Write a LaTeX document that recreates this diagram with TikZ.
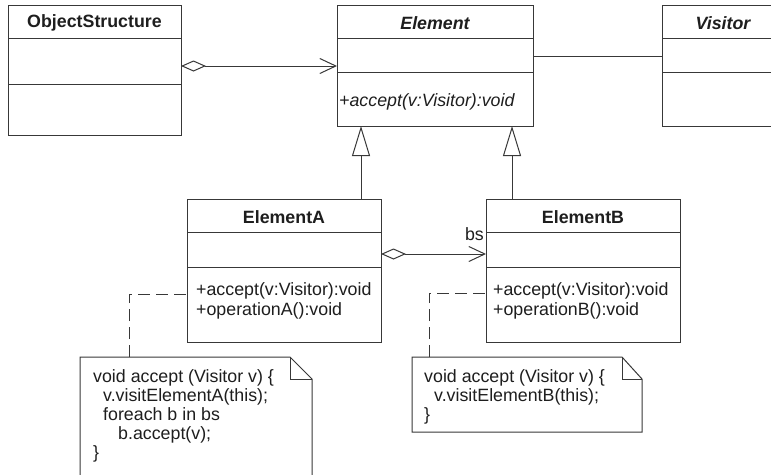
\documentclass[tikz,border=0pt]{standalone}
\usepackage{fontspec}
\setmainfont{Liberation Sans}
\usetikzlibrary{arrows.meta,calc}

\definecolor{umlline}{HTML}{383838}
\definecolor{umlink}{HTML}{1E1E1E}

\newcommand{\umlsize}{\fontsize{17.8}{20}\selectfont}

\tikzset{
  classbox/.style={draw=umlline, line width=1pt, fill=white, inner sep=0pt,
    outer sep=0pt, anchor=north west},
  classname/.style={font=\umlsize\bfseries, text=umlink, inner sep=0pt},
  abstractname/.style={classname, font=\umlsize\bfseries\itshape},
  member/.style={font=\umlsize, text=umlink, inner sep=0pt, anchor=west},
  abstractmember/.style={member, font=\umlsize\itshape},
  compartment/.style={draw=umlline, line width=1pt},
  assoc/.style={draw=umlline, line width=1pt},
  aggregation/.style={assoc, {Diamond[open, length=25pt, width=11pt]}-{Straight Barb[length=16pt, width=15pt]}},
  inherit/.style={assoc, -{Triangle[open, length=30pt, width=18pt]}},
  noteshape/.style={draw=umlline, line width=1pt, fill=white, line join=miter},
  notelink/.style={draw=umlline, line width=1pt, dash pattern=on 12pt off 6pt},
  notetext/.style={font=\fontsize{17.8}{19}\selectfont, text=umlink, inner sep=0pt,
    anchor=north west, align=left},
}

\begin{document}
\begin{tikzpicture}[x=1pt, y=-1pt]
\useasboundingbox (0,0) rectangle (771,474);
\clip (0,0) rectangle (771,474);
\fill[white] (0,0) rectangle (771,474);

% ---- class boxes ----
\node[classbox, minimum width=173pt, minimum height=130pt] (os) at (8,5) {};
\node[classbox, minimum width=196pt, minimum height=121pt] (el) at (337,5) {};
\node[classbox, minimum width=122pt, minimum height=121pt] (vis) at (662,5) {};
\node[classbox, minimum width=194pt, minimum height=143pt] (ea) at (187,199) {};
\node[classbox, minimum width=194pt, minimum height=143pt] (eb) at (486,199) {};

% compartments
\foreach \cls/\a/\b in {os/33/79, el/33/67, vis/33/67, ea/33/68, eb/33/68} {
  \draw[compartment] ($(\cls.north west)+(0,\a)$) -- ($(\cls.north east)+(0,\a)$);
  \draw[compartment] ($(\cls.north west)+(0,\b)$) -- ($(\cls.north east)+(0,\b)$);
}

% names
\node[classname] (osname) at ($(os.north)+(0,18)$) {ObjectStructure};
\node[abstractname] (elname) at ($(el.north)+(0,18)$) {Element};
\node[abstractname] (visname) at ($(vis.north)+(0,18)$) {Visitor};
\node[classname] (eaname) at ($(ea.north)+(0,18)$) {ElementA};
\node[classname] (ebname) at ($(eb.north)+(0,18)$) {ElementB};

% operations
\node[abstractmember] (elop) at ($(el.north west)+(2,97)$) {+accept(v:Visitor):void};
\node[member] (eaop1) at ($(ea.north west)+(9,92)$) {+accept(v:Visitor):void};
\node[member] (eaop2) at ($(ea.north west)+(9,112)$) {+operationA():void};
\node[member] (ebop1) at ($(eb.north west)+(7,92)$) {+accept(v:Visitor):void};
\node[member] (ebop2) at ($(eb.north west)+(7,112)$) {+operationB():void};

% ---- relations ----
\draw[aggregation] ($(os.north east)+(0,61)$) -- ($(el.north west)+(0,61)$);
\draw[assoc] ($(el.north east)+(0,51)$) -- ($(vis.north west)+(0,51)$);

\coordinate (eaTop) at ($(ea.north east)+(-20,0)$);
\coordinate (ebTop) at ($(eb.north west)+(26,0)$);
\draw[inherit] (eaTop) -- (eaTop |- el.south);
\draw[inherit] (ebTop) -- (ebTop |- el.south);

\coordinate (eaBs) at ($(ea.north east)+(0,55)$);
\draw[aggregation] (eaBs) -- (eaBs -| eb.west);
\node[member, anchor=base east] (bslabel) at ($(eb.north west)+(-2,41)$) {bs};

% ---- notes ----
\coordinate (naNW) at (80,357);
\coordinate (naFold) at (290,357);
\coordinate (naNE) at (312,379);
\draw[noteshape] ($(naNW)+(0,130)$) -- (naNW) -- (naFold) -- (naNE) -- ($(naNE)+(0,110)$);
\draw[noteshape, fill=none] (naFold) |- (naNE);
\node[notetext] (natext) at (93,369) {void accept (Visitor v) \{\\
\hspace*{10pt}v.visitElementA(this);\\
\hspace*{10pt}foreach b in bs\\
\hspace*{25pt}b.accept(v);\\
\}};
\coordinate (naLink) at (129,357);
\draw[notelink] (naLink) |- ($(ea.north west)+(0,95)$);

\coordinate (nbNW) at (412,357);
\coordinate (nbFold) at (622,357);
\coordinate (nbNE) at (642,379);
\coordinate (nbSE) at (642,432);
\draw[noteshape] (nbNW) -- (nbFold) -- (nbNE) -- (nbSE) -- (nbNW |- nbSE) -- cycle;
\draw[noteshape, fill=none] (nbFold) |- (nbNE);
\node[notetext] (nbtext) at (424,369) {void accept (Visitor v) \{\\
\hspace*{10pt}v.visitElementB(this);\\
\}};
\coordinate (nbLink) at (429,357);
\draw[notelink] (nbLink) |- ($(eb.north west)+(0,94)$);
\end{tikzpicture}
\end{document}
